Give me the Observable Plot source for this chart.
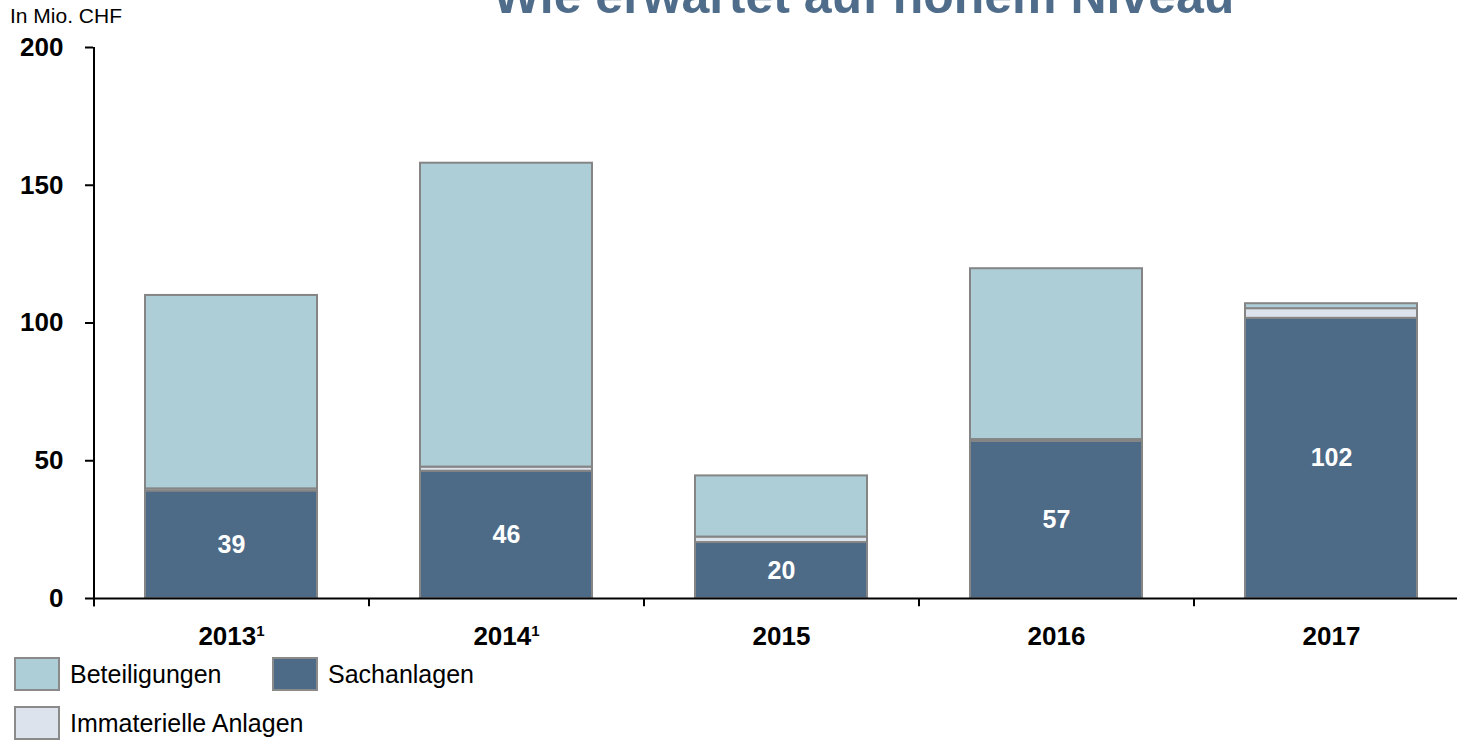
<!DOCTYPE html>
<html>
<head>
<meta charset="utf-8">
<script src="https://cdn.jsdelivr.net/npm/d3@7"></script>
<script src="https://cdn.jsdelivr.net/npm/@observablehq/plot@0.6"></script>
<style>
  html, body { margin: 0; padding: 0; background: #fff; }
  body { width: 1457px; height: 740px; position: relative; overflow: hidden; font-family: "Liberation Sans", Arial, sans-serif; }
  #title { position: absolute; left: 493px; top: -29px; font-size: 50px; line-height: 50px; font-weight: bold; color: #4f6d8a; white-space: nowrap; }
  #unit { position: absolute; left: 10px; top: 5px; font-size: 21px; line-height: 21px; color: #000; }
  #chart { position: absolute; left: 0; top: 0; }
  .leg { position: absolute; display: flex; align-items: center; font-size: 25px; color: #000; white-space: nowrap; }
  .sw { width: 42px; height: 30px; border: 2px solid #8a8a8a; margin-right: 10px; }
</style>
</head>
<body>
<div id="title">Wie erwartet auf hohem Niveau</div>
<div id="unit">In Mio. CHF</div>
<div id="chart"></div>
<div id="legend"></div>
<script>
const years = ["2013", "2014", "2015", "2016", "2017"];
const yearLabels = ["2013\u00b9", "2014\u00b9", "2015", "2016", "2017"];
const seriesNames = ["Sachanlagen", "Immaterielle Anlagen", "Beteiligungen"];
const seriesColors = ["#4d6a87", "#dde3ec", "#adcdd7"];
const sachanlagen = [39, 46.2, 20.3, 57, 101.7];
const immaterielle = [0.8, 1.5, 2, 0.7, 3.5];
const beteiligungen = [70.2, 110.3, 22.2, 62, 1.8];
const yTicks = [0, 50, 100, 150, 200];
const legendOrder = ["Beteiligungen", "Sachanlagen", "Immaterielle Anlagen"];

const rows = [];
years.forEach((yr, i) => {
  rows.push({year: yr, series: "Sachanlagen", value: sachanlagen[i]});
  rows.push({year: yr, series: "Immaterielle Anlagen", value: immaterielle[i]});
  rows.push({year: yr, series: "Beteiligungen", value: beteiligungen[i]});
});
const labelOf = Object.fromEntries(years.map((y, i) => [y, yearLabels[i]]));
const sachRows = years.map((yr, i) => ({year: yr, value: sachanlagen[i]}));

const step = (1468 - 93) / years.length;

const plot = Plot.plot({
  width: 1457,
  height: 660,
  marginTop: 47,
  marginBottom: 62,
  marginLeft: 93,
  marginRight: 0,
  style: {fontFamily: "'Liberation Sans', Arial, sans-serif", background: "transparent"},
  x: {type: "band", domain: years, range: [93, 1468], paddingInner: 0.375, paddingOuter: 0.1875},
  y: {domain: [0, 200], range: [598, 47]},
  color: {domain: seriesNames, range: seriesColors},
  marks: [
    Plot.barY(rows, {x: "year", y: "value", fill: "series", order: seriesNames, stroke: "#858585", strokeWidth: 2}),
    Plot.text(sachRows, {x: "year", y: d => d.value / 2, text: d => String(Math.round(d.value)), fill: "#fff", fontSize: 25, fontWeight: "bold"}),
    Plot.ruleY([0], {stroke: "#000", strokeWidth: 2}),
    Plot.ruleX([years[0]], {x: d => d, y1: -3, y2: 200, dx: -step / 2, stroke: "#000", strokeWidth: 2}),
    Plot.ruleX(years, {x: d => d, y1: 0, y2: -3, dx: -step / 2, stroke: "#000", strokeWidth: 2}),
    Plot.axisY({ticks: yTicks, tickSize: 8, tickPadding: 22, fontSize: 26, fontWeight: "bold", stroke: "#000", strokeWidth: 2, fill: "#000", label: null, tickFormat: d => String(d)}),
    Plot.axisX({tickSize: 0, tickPadding: 28, fontSize: 26, fontWeight: "bold", fill: "#000", label: null, tickFormat: d => labelOf[d]})
  ]
});
document.getElementById("chart").appendChild(plot);

// render the footnote marker as a raised superscript
plot.querySelectorAll("text").forEach(t => {
  const s = t.textContent;
  if (s.includes("\u00b9") && t.children.length === 0) {
    const base = s.replace("\u00b9", "");
    t.textContent = "";
    const a = document.createElementNS("http://www.w3.org/2000/svg", "tspan");
    a.textContent = base;
    const b = document.createElementNS("http://www.w3.org/2000/svg", "tspan");
    b.textContent = "1";
    b.setAttribute("font-size", "15");
    b.setAttribute("dy", "-9");
    t.appendChild(a);
    t.appendChild(b);
  }
});

const colorOf = Object.fromEntries(seriesNames.map((s, i) => [s, seriesColors[i]]));
const legendPos = [[14, 657], [272, 657], [14, 706]];
const legend = document.getElementById("legend");
legendOrder.forEach((name, i) => {
  const el = document.createElement("div");
  el.className = "leg";
  el.style.left = legendPos[i][0] + "px";
  el.style.top = legendPos[i][1] + "px";
  const sw = document.createElement("div");
  sw.className = "sw";
  sw.style.background = colorOf[name];
  const tx = document.createElement("span");
  tx.textContent = name;
  el.appendChild(sw);
  el.appendChild(tx);
  legend.appendChild(el);
});
</script>
</body>
</html>
